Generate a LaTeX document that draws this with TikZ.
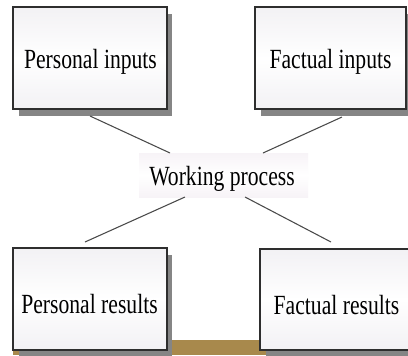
\documentclass[tikz,border=0pt]{standalone}
\usepackage{fontspec}
\setmainfont{Liberation Serif}
\newfontfamily\narrowserif[FakeStretch=0.78]{Liberation Serif}
\definecolor{boxedge}{HTML}{2E2E2E}
\definecolor{boxtint}{HTML}{F2F1F4}
\definecolor{shadowgray}{HTML}{858585}
\definecolor{linkgray}{HTML}{4A4A4A}
\definecolor{floorbrown}{HTML}{A8894C}
\definecolor{labeltint}{HTML}{F7F3F7}
\begin{document}
\begin{tikzpicture}[x=0.75pt,y=-0.75pt,
  panel/.style={draw=boxedge,line width=0.9pt,top color=boxtint,bottom color=boxtint,middle color=white},
  panelshadow/.style={fill=shadowgray},
  caption/.style={font=\narrowserif\fontsize{20.8pt}{24pt}\selectfont,text=black,inner sep=0pt},
  link/.style={draw=linkgray,line width=0.8pt}]
\useasboundingbox (0,0) rectangle (408,355);
\fill[white] (0,0) rectangle (408,355);

% floor strip under the lower boxes
\fill[floorbrown] (13,340) rectangle (266,355);

% drop shadows
\fill[panelshadow] (19,14) rectangle (172,116);
\fill[panelshadow] (261,14) rectangle (412,116);
\fill[panelshadow] (19,255) rectangle (172,357);
\fill[panelshadow] (266,256) rectangle (414,357);

% boxes
\path[panel] (13,7) rectangle (167,109);
\path[panel] (255,7) rectangle (406,109);
\path[panel] (13,248) rectangle (167,350);
\path[panel] (260,249) rectangle (412,350);

\node[caption] (pin) at (90.5,62) {Personal inputs};
\node[caption] (fin) at (330.5,62) {Factual inputs};
\node[caption] (pres) at (89.5,304) {Personal results};
\node[caption] (fres) at (336.5,305) {Factual results};

% central label
\fill[top color=labeltint,bottom color=labeltint,middle color=white,draw=none] (139,153) rectangle (308,197);
\node[caption] (work) at (222,179) {Working process};

% connector end points
\coordinate (pinfoot) at (90,116);
\coordinate (finfoot) at (342,117);
\coordinate (preshead) at (85,242);
\coordinate (freshead) at (331,242);
\coordinate (worknw) at (170,153);
\coordinate (workne) at (263,153);
\coordinate (worksw) at (185,197);
\coordinate (workse) at (245,197);

\draw[link] (pinfoot) -- (worknw);
\draw[link] (finfoot) -- (workne);
\draw[link] (worksw) -- (preshead);
\draw[link] (workse) -- (freshead);
\end{tikzpicture}
\end{document}
